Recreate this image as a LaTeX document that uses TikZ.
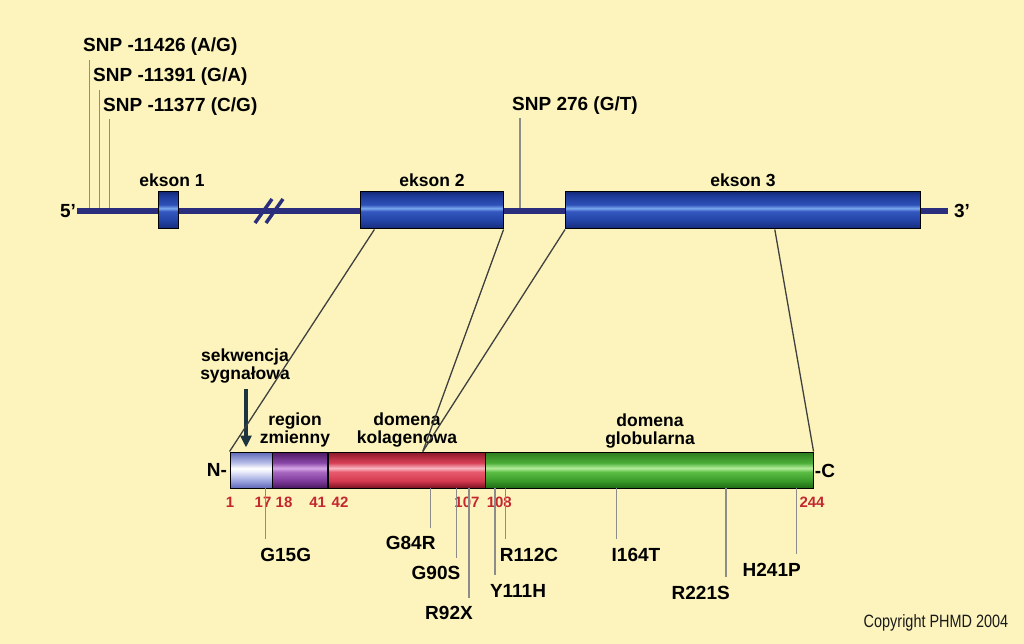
\documentclass[tikz,border=0pt]{standalone}
\usepackage{fontspec}
\setmainfont{Liberation Sans}
\usetikzlibrary{arrows.meta,calc}
\definecolor{bgyellow}{HTML}{FCF4BC}
\definecolor{genenavy}{HTML}{2A2E7C}
\definecolor{snpgray}{HTML}{8C8C8C}
\definecolor{numred}{HTML}{C3272F}
\definecolor{arrowteal}{HTML}{1B3440}
% exon blue
\definecolor{exA}{HTML}{162A7A}\definecolor{exB}{HTML}{2445A8}
\definecolor{exC}{HTML}{3558C0}\definecolor{exD}{HTML}{7AAAF0}
\definecolor{exE}{HTML}{2E50B8}\definecolor{exF}{HTML}{1E3A98}
% signal peptide
\definecolor{sgA}{HTML}{5F68B8}\definecolor{sgB}{HTML}{9CA4DE}
\definecolor{sgC}{HTML}{E8EAFA}\definecolor{sgE}{HTML}{B8BEE8}
% variable region
\definecolor{vrA}{HTML}{4A1860}\definecolor{vrB}{HTML}{7E3A9A}
\definecolor{vrC}{HTML}{A868C0}\definecolor{vrD}{HTML}{D8A8E8}
\definecolor{vrE}{HTML}{8A48A8}
% collagen domain
\definecolor{clA}{HTML}{7A1020}\definecolor{clB}{HTML}{D43A50}
\definecolor{clC}{HTML}{E85A6E}\definecolor{clD}{HTML}{F8B8C2}
\definecolor{clE}{HTML}{D84056}\definecolor{clF}{HTML}{8A1828}
% globular domain
\definecolor{glA}{HTML}{1E6A14}\definecolor{glB}{HTML}{3A9A2A}
\definecolor{glC}{HTML}{5CBE44}\definecolor{glD}{HTML}{B4EE9C}
\definecolor{glE}{HTML}{4CAE38}\definecolor{glF}{HTML}{2A7A1C}
\pgfdeclareverticalshading{exonshade}{100bp}{color(0bp)=(exA); color(25bp)=(exA); color(37.5bp)=(exB);
  color(49bp)=(exC); color(53bp)=(exD); color(58bp)=(exE); color(70bp)=(exF); color(75bp)=(exA); color(100bp)=(exA)}
\pgfdeclareverticalshading{sigshade}{100bp}{color(0bp)=(sgA); color(25bp)=(sgA); color(35bp)=(sgB);
  color(47.5bp)=(sgC); color(52.5bp)=(white); color(60bp)=(sgE); color(75bp)=(sgA); color(100bp)=(sgA)}
\pgfdeclareverticalshading{varshade}{100bp}{color(0bp)=(vrA); color(25bp)=(vrA); color(35bp)=(vrB);
  color(47.5bp)=(vrC); color(52.5bp)=(vrD); color(60bp)=(vrE); color(75bp)=(vrA); color(100bp)=(vrA)}
\pgfdeclareverticalshading{colshade}{100bp}{color(0bp)=(clA); color(25bp)=(clA); color(35bp)=(clB);
  color(47.5bp)=(clC); color(52.5bp)=(clD); color(60bp)=(clE); color(75bp)=(clF); color(100bp)=(clF)}
\pgfdeclareverticalshading{globshade}{100bp}{color(0bp)=(glA); color(25bp)=(glA); color(35bp)=(glB);
  color(47.5bp)=(glC); color(52.5bp)=(glD); color(60bp)=(glE); color(75bp)=(glF); color(100bp)=(glF)}
\tikzset{
  lab/.style={font=\fontsize{17.5}{17.3}\selectfont\bfseries, inner sep=0pt, align=center},
  big/.style={font=\fontsize{19}{19}\selectfont\bfseries, inner sep=0pt},
  num/.style={font=\fontsize{15}{15}\selectfont\bfseries, text=numred, inner sep=0pt},
  exon/.style={draw=black, line width=1pt, inner sep=0pt, minimum height=37pt, shading=exonshade},
  seg/.style={draw=black, line width=1pt, inner sep=0pt, minimum height=36pt},
  gene/.style={genenavy, line width=5.5pt},
  snp/.style={snpgray, line width=1.3pt},
  link/.style={black!75, line width=1.3pt},
}
\begin{document}
\begin{tikzpicture}[x=1pt, y=-1pt]
\fill[bgyellow] (0,0) rectangle (1024,644);
\useasboundingbox (0,0) rectangle (1024,644);
% gene
\node (l5) at (68,211) [big] {5’};
\node (l3) at (962,211) [big] {3’};
\draw[gene] (l5.east) ++(1,0) -- ($(l3.west)+(-6,0)$);
\draw[genenavy, line width=3.5pt] (255,223) -- (272,199);
\draw[genenavy, line width=3.5pt] (266,223) -- (283,199);
\node (ex1) at (168,210.5) [exon, minimum width=20pt] {};
\node (ex2) at (431.8,210.5) [exon, minimum width=142.5pt] {};
\node (ex3) at (742.8,210.5) [exon, minimum width=354.5pt] {};
\node (ex1l) at (172,180) [lab] {ekson 1};
\node (ex2l) at (432,180) [lab] {ekson 2};
\node (ex3l) at (743,180) [lab] {ekson 3};
% SNPs
\node (s1) at (83,47) [big, anchor=west] {SNP -11426 (A/G)};
\node (s2) at (93,77) [big, anchor=west] {SNP -11391 (G/A)};
\node (s3) at (103,107) [big, anchor=west] {SNP -11377 (C/G)};
\node (s4) at (575,106) [big] {SNP 276 (G/T)};
\draw[snp] (89.3,60) -- (89.3,208);
\draw[snp] (99.3,90) -- (99.3,208);
\draw[snp] (109.3,119) -- (109.3,208);
\draw[snp] (520,118) -- (520,208);
% protein
\node (sig) at (251.4,470) [seg, minimum width=42.7pt, shading=sigshade] {};
\node (var) at (300.3,470) [seg, minimum width=55.3pt, shading=varshade] {};
\node (col) at (406.9,470) [seg, minimum width=157.7pt, shading=colshade] {};
\node (glob) at (649.4,470) [seg, minimum width=327.3pt, shading=globshade] {};
\node (nt) at (217,470) [big] {N-};
\node (ct) at (825,471) [big] {-C};
\node (sigl) at (245,366) [lab] {sekwencja\\sygnałowa};
\node (varl) at (295,430) [lab] {region\\zmienny};
\node (coll) at (407,430) [lab] {domena\\kolagenowa};
\node (globl) at (650,431) [lab] {domena\\globularna};
\draw[arrowteal, line width=4pt, -{Triangle[length=12pt,width=11pt]}]
  ($(sigl.south)+(1,6)$) -- ($(sigl.south |- sig.north)+(1,-4)$);
% exon to protein
\draw[link] ($(ex2.south west)!0.1!(ex2.south east)$) -- (sig.north west);
\draw[link] (ex2.south east) -- ($(col.north west)!0.6!(col.north east)$);
\draw[link] (ex3.south west) -- ($(col.north west)!0.6!(col.north east)$);
\draw[link] ($(ex3.south west)!0.59!(ex3.south east)$) -- (glob.north east);
% positions
\node (p1) at (230,502) [num] {1};
\node (p17) at (263,502) [num] {17};
\node (p18) at (284,502) [num] {18};
\node (p41) at (317.7,502) [num] {41};
\node (p42) at (340,502) [num] {42};
\node (p107) at (467,502) [num] {107};
\node (p108) at (499.3,502) [num] {108};
\node (p244) at (812,502) [num] {244};
% mutations
\node (m15) at (285.7,555) [big] {G15G};
\node (m84) at (410.7,543) [big] {G84R};
\node (m90) at (436,573) [big] {G90S};
\node (m92) at (449,613) [big] {R92X};
\node (m111) at (518,591) [big] {Y111H};
\node (m112) at (529,555) [big] {R112C};
\node (m164) at (636,555) [big] {I164T};
\node (m221) at (700.7,593) [big] {R221S};
\node (m241) at (771.7,570) [big] {H241P};
\draw[snp] (265.7,488) -- (265.7,539);
\draw[snp] (430.7,488) -- (430.7,528);
\draw[snp] (456.7,488) -- (456.7,558);
\draw[snp] (469,488) -- (469,598);
\draw[snp] (495,488) -- (495,575);
\draw[snp] (505.7,488) -- (505.7,539);
\draw[snp] (616.7,488) -- (616.7,539);
\draw[snp] (726,488) -- (726,577);
\draw[snp] (796.7,488) -- (796.7,554);
\node (copy) at (936,623) [inner sep=0pt, text=black!90,
  font=\fontsize{17}{17}\selectfont] {\scalebox{0.85}[1.05]{Copyright PHMD 2004}};
\end{tikzpicture}
\end{document}
